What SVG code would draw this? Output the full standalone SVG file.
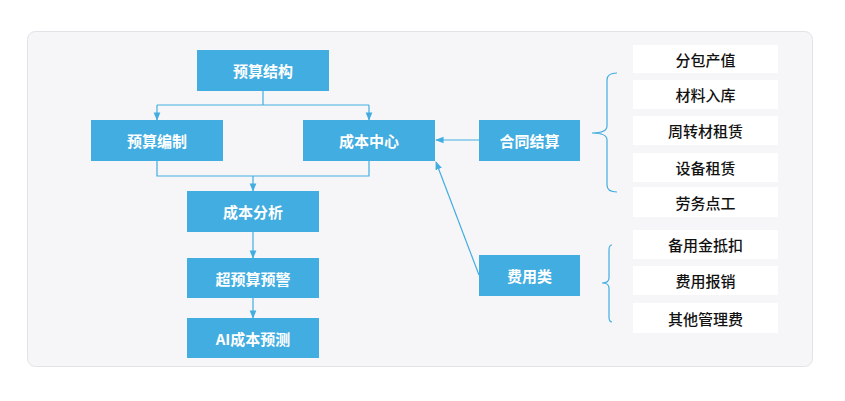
<svg xmlns="http://www.w3.org/2000/svg" width="845" height="401" viewBox="0 0 845 401">
<style>
.n rect{fill:#42ade0}
.n text{fill:#fff;font:bold 15px "Noto Sans CJK SC",sans-serif;text-anchor:middle;dominant-baseline:central}
.w rect{fill:#fff}
.w text{fill:#111;font:500 15px "Noto Sans CJK SC",sans-serif;text-anchor:middle;dominant-baseline:central}
.c path{fill:none;stroke:#42ade0;stroke-width:1.2}
</style>
<defs><marker id="a" viewBox="0 0 10 10" refX="9" refY="5" markerWidth="7" markerHeight="7" orient="auto"><path d="M0,1 L10,5 L0,9 z" fill="#42ade0"/></marker></defs>
<rect x="27.500" y="31.500" width="785" height="335" rx="8" fill="#f6f6f9" stroke="#e3e3e7"/>
<g class="c">
<path d="M263,91 V105 M157,105 H369"/>
<path d="M157,105 V120" marker-end="url(#a)"/>
<path d="M369,105 V120" marker-end="url(#a)"/>
<path d="M157,161 V176 H369 V161"/>
<path d="M253,176 V191" marker-end="url(#a)"/>
<path d="M253,232 V258" marker-end="url(#a)"/>
<path d="M253,298 V318" marker-end="url(#a)"/>
<path d="M479,140 H436" marker-end="url(#a)"/>
<path d="M479,275 L436,162" marker-end="url(#a)"/>
<path d="M617,73 Q607,73 607,80 V126 Q607,133 592,133 Q607,133 607,140 V185 Q607,192 617,192"/>
<path d="M612,245 Q609,245 609,250 V278 Q609,283 602,283 Q609,283 609,288 V317 Q609,322 612,322"/>
</g>
<g id="n1" class="n"><rect x="197" y="50" width="132" height="41"/><text x="263" y="70.500">预算结构</text></g>
<g id="n2" class="n"><rect x="91" y="120" width="132" height="41"/><text x="157" y="140.500">预算编制</text></g>
<g id="n3" class="n"><rect x="303" y="120" width="132" height="41"/><text x="369" y="140.500">成本中心</text></g>
<g id="n4" class="n"><rect x="187" y="191" width="132" height="41"/><text x="253" y="211.500">成本分析</text></g>
<g id="n5" class="n"><rect x="187" y="258" width="132" height="40"/><text x="253" y="278">超预算预警</text></g>
<g id="n6" class="n"><rect x="187" y="318" width="132" height="40"/><text x="253" y="338">AI成本预测</text></g>
<g id="n7" class="n"><rect x="479" y="120" width="101" height="41"/><text x="529.500" y="140.500">合同结算</text></g>
<g id="n8" class="n"><rect x="479" y="255" width="101" height="41"/><text x="529.500" y="275.500">费用类</text></g>
<g id="r1" class="w"><rect x="633" y="45" width="145" height="28"/><text x="705.500" y="59">分包产值</text></g>
<g id="r2" class="w"><rect x="633" y="80" width="145" height="29"/><text x="705.500" y="94.500">材料入库</text></g>
<g id="r3" class="w"><rect x="633" y="116" width="145" height="29"/><text x="705.500" y="130.500">周转材租赁</text></g>
<g id="r4" class="w"><rect x="633" y="153" width="145" height="29"/><text x="705.500" y="167.500">设备租赁</text></g>
<g id="r5" class="w"><rect x="633" y="187" width="145" height="30"/><text x="705.500" y="202">劳务点工</text></g>
<g id="r6" class="w"><rect x="633" y="230" width="145" height="29"/><text x="705.500" y="244.500">备用金抵扣</text></g>
<g id="r7" class="w"><rect x="633" y="266" width="145" height="29"/><text x="705.500" y="280.500">费用报销</text></g>
<g id="r8" class="w"><rect x="633" y="303" width="145" height="30"/><text x="705.500" y="318">其他管理费</text></g>
</svg>
